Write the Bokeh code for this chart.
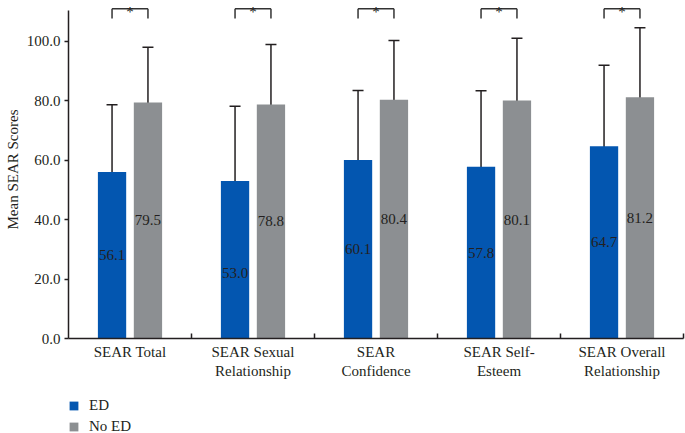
from bokeh.plotting import figure
from bokeh.layouts import column
from bokeh.models import (Range1d, FixedTicker, NumeralTickFormatter, Whisker, TeeHead,
                          ColumnDataSource, Legend, LegendItem)
from bokeh.core.properties import value
from bokeh.embed import file_html
from bokeh.resources import INLINE

# ---------------- data ----------------
categories = ["SEAR Total", "SEAR Sexual\nRelationship", "SEAR\nConfidence",
              "SEAR Self-\nEsteem", "SEAR Overall\nRelationship"]
ed_mean = [56.1, 53.0, 60.1, 57.8, 64.7]
noed_mean = [79.5, 78.8, 80.4, 80.1, 81.2]
ed_sd = [22.6, 25.2, 23.4, 25.6, 27.3]
noed_sd = [18.6, 20.2, 19.9, 21.0, 23.4]
series_names = ["ED", "No ED"]
y_ticks = [0, 20, 40, 60, 80, 100]

# ---------------- style ----------------
BLUE = "#0356B0"
GRAY = "#8C8F92"
INK = "#231F20"
FONT = "Liberation Serif"
FS = "15px"

n = len(categories)
centers = [i + 0.5 for i in range(n)]
off = 0.146
bw = 0.23
ed_x = [c - off for c in centers]
noed_x = [c + off for c in centers]

ed_label_y = [m / 2 for m in ed_mean]
ed_label_y[1] = 22.2  # moved below the error bar end in the original
noed_label_y = [m / 2 for m in noed_mean]

ed_src = ColumnDataSource(dict(
    x=ed_x, top=ed_mean,
    upper=[m + s for m, s in zip(ed_mean, ed_sd)],
    lower=[m - s for m, s in zip(ed_mean, ed_sd)],
    label=[f"{m:.1f}" for m in ed_mean], ly=ed_label_y))
noed_src = ColumnDataSource(dict(
    x=noed_x, top=noed_mean,
    upper=[m + s for m, s in zip(noed_mean, noed_sd)],
    lower=[m - s for m, s in zip(noed_mean, noed_sd)],
    label=[f"{m:.1f}" for m in noed_mean], ly=noed_label_y))

p = figure(width=685, height=393, x_range=Range1d(0, n), y_range=Range1d(0, 113.8),
           output_backend="svg", toolbar_location=None,
           min_border_left=68, min_border_right=2, min_border_top=0, min_border_bottom=55)
p.outline_line_color = None
p.xgrid.visible = False
p.ygrid.visible = False

p.vbar(x="x", top="top", width=bw, bottom=0, source=ed_src,
       fill_color=BLUE, line_color=None)
p.vbar(x="x", top="top", width=bw, bottom=0, source=noed_src,
       fill_color=GRAY, line_color=None)

for src in (ed_src, noed_src):
    w = Whisker(source=src, base="x", upper="upper", lower="lower", dimension="height",
                line_color=INK, line_width=1.5,
                upper_head=TeeHead(size=11, line_color=INK, line_width=1.5),
                lower_head=TeeHead(size=11, line_color=INK, line_width=1.5))
    p.add_layout(w)
    p.text(x="x", y="ly", text="label", source=src, text_font=value(FONT),
           text_font_size=FS, text_align="center", text_baseline="middle",
           text_color=INK)

# significance brackets
br_top = 111.0
br_leg = 107.7
xs0, xs1, ys0, ys1 = [], [], [], []
for a, b in zip(ed_x, noed_x):
    xs0 += [a, a, b]; xs1 += [b, a, b]
    ys0 += [br_top, br_top, br_top]; ys1 += [br_top, br_leg, br_leg]
p.segment(x0=xs0, y0=ys0, x1=xs1, y1=ys1, line_color="#333333", line_width=1.5)
p.text(x=[(a + b) / 2 for a, b in zip(ed_x, noed_x)], y=[109.8] * n, text=["*"] * n,
       text_font=value(FONT), text_font_size=FS, text_align="center",
       text_baseline="alphabetic", text_color=INK)

# axes
ya = p.yaxis[0]
ya.ticker = FixedTicker(ticks=y_ticks)
ya.formatter = NumeralTickFormatter(format="0.0")
ya.bounds = (0, 110.3)
ya.major_tick_out = 4
ya.major_tick_in = 0
ya.minor_tick_line_color = None
ya.major_label_standoff = 4
ya.axis_label = "Mean SEAR Scores"
ya.axis_label_standoff = 3
ya.axis_label_text_font_style = "normal"
ya.axis_label_text_font = FONT
ya.axis_label_text_font_size = FS
ya.axis_label_text_color = INK
ya.major_label_text_font = FONT
ya.major_label_text_font_size = FS
ya.major_label_text_color = INK
ya.axis_line_color = INK
ya.axis_line_width = 1.5
ya.major_tick_line_color = INK
ya.major_tick_line_width = 1.5

xa = p.xaxis[0]
xa.ticker = FixedTicker(ticks=centers, minor_ticks=[1, 2, 3, 4, 5])
xa.major_label_overrides = {c: lab for c, lab in zip(centers, categories)}
xa.major_tick_line_color = None
xa.major_tick_in = 0
xa.major_tick_out = 0
xa.minor_tick_in = 5
xa.minor_tick_out = 0
xa.minor_tick_line_color = INK
xa.minor_tick_line_width = 1.5
xa.major_label_standoff = 5
xa.major_label_text_font = FONT
xa.major_label_text_font_size = FS
xa.major_label_text_color = INK
xa.axis_line_color = INK
xa.axis_line_width = 1.5

# ---------------- legend (separate strip below) ----------------
lg = figure(width=685, height=40, x_range=Range1d(0, 1), y_range=Range1d(0, 1),
            output_backend="svg", toolbar_location=None,
            x_axis_type=None, y_axis_type=None,
            min_border_left=68, min_border_right=2, min_border_top=4, min_border_bottom=0)
lg.outline_line_color = None
lg_ed = lg.vbar(x="x", top="top", width=bw, source=ed_src, fill_color=BLUE,
                line_color=None, visible=False)
lg_no = lg.vbar(x="x", top="top", width=bw, source=noed_src, fill_color=GRAY,
                line_color=None, visible=False)
legend = Legend(items=[LegendItem(label=series_names[0], renderers=[lg_ed]),
                       LegendItem(label=series_names[1], renderers=[lg_no])],
                location="top_left", orientation="vertical",
                glyph_width=11, glyph_height=11, label_height=12, spacing=4,
                padding=0, margin=0, label_standoff=10,
                label_text_font=FONT, label_text_font_size=FS, label_text_color=INK,
                border_line_color=None, background_fill_alpha=0)
lg.add_layout(legend)

layout = column(p, lg, spacing=0)
open("out.html", "w").write(file_html(layout, INLINE))
